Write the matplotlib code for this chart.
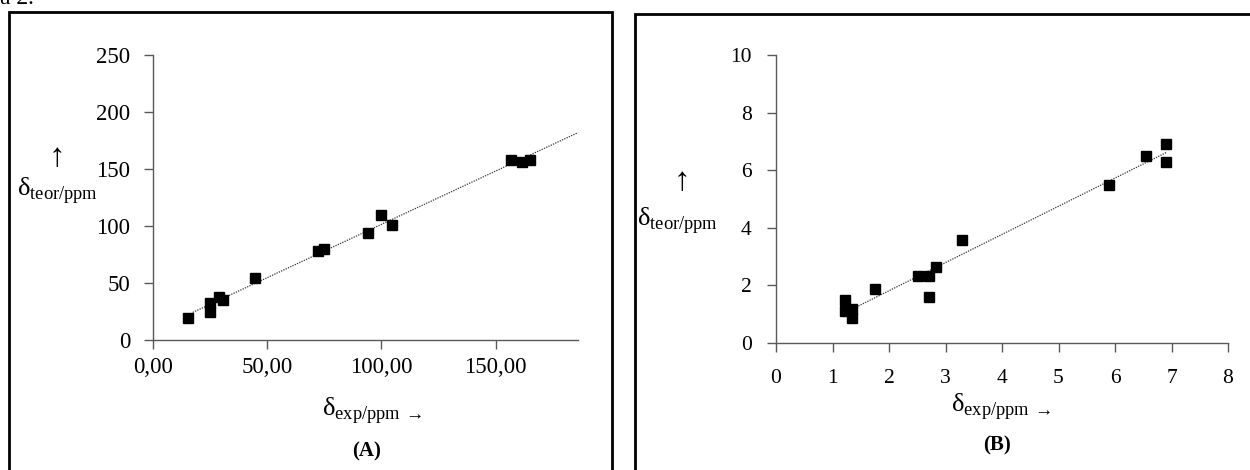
import numpy as np
import matplotlib
matplotlib.use("Agg")
import matplotlib.pyplot as plt
from matplotlib.patches import Rectangle

# =========================
# DATA
# =========================

# panel A (13C)
a_exp = [15.4, 24.9, 24.9, 29.0, 30.5, 44.7, 72.3, 74.8, 94.0, 99.6, 104.4, 156.5, 161.7, 165.2]
a_teor = [19.0, 32.2, 24.3, 37.4, 35.1, 54.7, 78.4, 80.1, 93.9, 109.4, 100.6, 158.2, 156.4, 158.2]
a_xticks = [0, 50, 100, 150]
a_xticklabels = ["0,00", "50,00", "100,00", "150,00"]
a_yticks = [0, 50, 100, 150, 200, 250]

# panel B (1H)
b_exp = [1.22, 1.22, 1.34, 1.34, 1.75, 2.52, 2.70, 2.70, 2.83, 3.29, 5.90, 6.55, 6.91, 6.90]
b_teor = [1.50, 1.12, 1.18, 0.86, 1.87, 2.31, 2.31, 1.61, 2.65, 3.56, 5.48, 6.48, 6.92, 6.30]
b_xticks = [0, 1, 2, 3, 4, 5, 6, 7, 8]
b_yticks = [0, 2, 4, 6, 8, 10]

# =========================
# STYLE
# =========================

plt.rcParams["font.family"] = ["Liberation Serif", "DejaVu Serif"]
plt.rcParams["mathtext.fontset"] = "custom"
plt.rcParams["mathtext.rm"] = "Liberation Serif"

W, H = 1250, 470
fig = plt.figure(figsize=(W / 100, H / 100), dpi=100)

axis_col = "#595959"


def fx(px):
    return px / W


def fy(py):
    return 1 - py / H


def style_axes(ax, fs, xpad, ypad):
    for s in ["top", "right"]:
        ax.spines[s].set_visible(False)
    for s in ["left", "bottom"]:
        ax.spines[s].set_color(axis_col)
        ax.spines[s].set_linewidth(1.0)
    ax.tick_params(axis="both", direction="out", length=6.5, width=1.0,
                   color=axis_col, labelsize=fs)
    ax.tick_params(axis="x", pad=xpad)
    ax.tick_params(axis="y", pad=ypad)


# =========================
# PANEL A
# =========================

axA = fig.add_axes([fx(153), fy(340), fx(578) - fx(153), fy(55) - fy(340)])
axA.set_xlim(0, 186)
axA.set_ylim(0, 250)
axA.set_xticks(a_xticks)
axA.set_xticklabels(a_xticklabels)
axA.set_yticks(a_yticks)
style_axes(axA, 16.5, 6, 10)

ka, ba = np.polyfit(a_exp, a_teor, 1)
xa = np.array([min(a_exp) + 2, 186])
axA.plot(xa, ka * xa + ba, color="#333333", lw=0.9, ls=(0, (1, 1)), clip_on=False)
axA.plot(a_exp, a_teor, "s", color="black", markersize=7, clip_on=False)

# =========================
# PANEL B
# =========================

axB = fig.add_axes([fx(776), fy(343), fx(1228) - fx(776), fy(55) - fy(343)])
axB.set_xlim(0, 8)
axB.set_ylim(0, 10)
axB.set_xticks(b_xticks)
axB.set_yticks(b_yticks)
style_axes(axB, 15.5, 12, 11)

kb, bb = np.polyfit(b_exp, b_teor, 1)
xb = np.array([min(b_exp), max(b_exp)])
axB.plot(xb, kb * xb + bb, color="#333333", lw=0.9, ls=(0, (1, 1)))
axB.plot(b_exp, b_teor, "s", color="black", markersize=7, clip_on=False)

# =========================
# LABELS
# =========================

ylab = r"δ$_{\mathrm{teor/ppm}}$"
xlab = r"δ$_{\mathrm{exp/ppm\ →}}$"

fig.text(fx(57), fy(158), "\u2191", fontsize=24, ha="center", va="center")
fig.text(fx(17), fy(191), ylab, fontsize=19, ha="left", va="center")
fig.text(fx(372), fy(410), xlab, fontsize=19, ha="center", va="center")
fig.text(fx(367), fy(451), "(A)", fontsize=15, fontweight="bold", ha="center", va="center")

fig.text(fx(682), fy(182), "\u2191", fontsize=24, ha="center", va="center")
fig.text(fx(637), fy(220), ylab, fontsize=19, ha="left", va="center")
fig.text(fx(1001), fy(407), xlab, fontsize=19, ha="center", va="center")
fig.text(fx(997), fy(445), "(B)", fontsize=15, fontweight="bold", ha="center", va="center")

# caption cut at the very top, as in the source
fig.text(0.0, fy(4), "a 2.", fontsize=17, ha="left", va="baseline")

# =========================
# FRAMES
# =========================

fig.add_artist(Rectangle((fx(9), fy(520)), fx(612) - fx(9), fy(12) - fy(520),
                         transform=fig.transFigure, fill=False, lw=2, ec="black"))
fig.add_artist(Rectangle((fx(635), fy(520)), fx(1300) - fx(635), fy(14) - fy(520),
                         transform=fig.transFigure, fill=False, lw=2, ec="black"))

fig.savefig("out.png", dpi=100)
